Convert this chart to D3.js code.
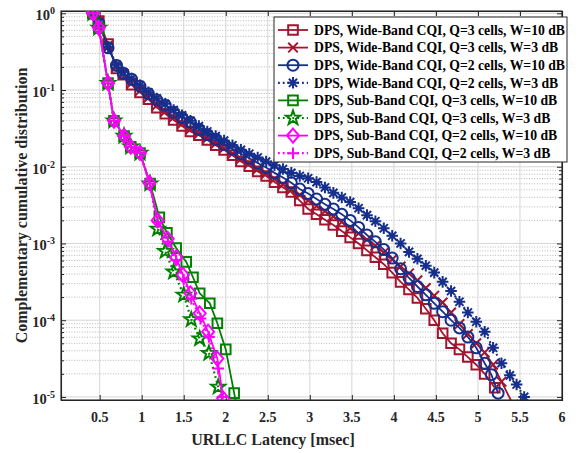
<!DOCTYPE html>
<html><head><meta charset="utf-8">
<script src="https://cdn.jsdelivr.net/npm/d3@7"></script>
<style>body{margin:0;background:#fff} svg{display:block}</style>
</head><body>
<svg id="chart" width="579" height="453"></svg>
<script>
// ---------- data ----------
const xTickValues = [0.5,1,1.5,2,2.5,3,3.5,4,4.5,5,5.5,6];
const xTickLabels = ["0.5","1","1.5","2","2.5","3","3.5","4","4.5","5","5.5","6"];
const yTickValues = [1,1e-1,1e-2,1e-3,1e-4,1e-5];
const yTickExponents = ["0","-1","-2","-3","-4","-5"];

const seriesLabels = [
  "DPS, Wide-Band CQI, Q=3 cells, W=10 dB",
  "DPS, Wide-Band CQI, Q=3 cells, W=3 dB",
  "DPS, Wide-Band CQI, Q=2 cells, W=10 dB",
  "DPS, Wide-Band CQI, Q=2 cells, W=3 dB",
  "DPS, Sub-Band CQI, Q=3 cells, W=10 dB",
  "DPS, Sub-Band CQI, Q=3 cells, W=3 dB",
  "DPS, Sub-Band CQI, Q=2 cells, W=10 dB",
  "DPS, Sub-Band CQI, Q=2 cells, W=3 dB"
];

const wbX = [0.42,0.49,0.60,0.70,0.78,0.88,0.98,1.08,1.18,1.28,1.38,1.48,1.58,1.68,1.78,1.88,1.98,2.08,2.18,2.28,2.38,2.48,2.58,2.68,2.78,2.88,2.98,3.08,3.18,3.28,3.38,3.48,3.58,3.68,3.78,3.88,3.98,4.08,4.18,4.28,4.38,4.48,4.58,4.68,4.78,4.88,4.98,5.08];

const wbQ3W10X = wbX.concat([5.20]);
const wbQ3W10Y = [1,0.794,0.398,0.191,0.158,0.117,0.0933,0.0759,0.0589,0.0490,0.0407,0.0339,0.0288,0.0257,0.0224,0.0191,0.0166,0.0141,0.0117,0.0102,0.00871,0.00759,0.00631,0.00537,0.00468,0.00363,0.00282,0.00240,0.00204,0.00174,0.00145,0.00120,0.00100,0.000813,0.000661,0.000537,0.000417,0.000316,0.000251,0.000195,0.000141,0.000100,0.0000676,0.0000501,0.0000417,0.0000331,0.0000263,0.0000200,0.0000132];

const wbQ3W3X = wbX.concat([5.18,5.28,5.42]);
const wbQ3W3Y = [1,0.776,0.380,0.200,0.162,0.123,0.0977,0.0794,0.0631,0.0525,0.0437,0.0363,0.0309,0.0269,0.0234,0.0200,0.0174,0.0148,0.0126,0.0110,0.00933,0.00813,0.00692,0.00589,0.00501,0.00427,0.00363,0.00309,0.00263,0.00224,0.00191,0.00158,0.00135,0.00112,0.000933,0.000759,0.000617,0.000501,0.000407,0.000331,0.000263,0.000209,0.000170,0.000126,0.0000891,0.0000661,0.0000501,0.0000380,0.0000263,0.0000158,0.0000079];

const wbQ2W10X = wbX.concat([5.16,5.24]);
const wbQ2W10Y = [1,0.741,0.355,0.209,0.166,0.138,0.112,0.0891,0.0741,0.0631,0.0513,0.0437,0.0380,0.0309,0.0263,0.0229,0.0195,0.0170,0.0148,0.0129,0.0112,0.00977,0.00832,0.00724,0.00617,0.00513,0.00447,0.00380,0.00324,0.00282,0.00240,0.00200,0.00162,0.00129,0.00105,0.000832,0.000646,0.000468,0.000355,0.000275,0.000214,0.000166,0.000129,0.000100,0.0000794,0.0000603,0.0000437,0.0000275,0.0000195,0.0000112];

const wbQ2W3X = wbX.concat([5.18,5.28,5.38,5.46,5.55]);
const wbQ2W3Y = [1,0.759,0.363,0.214,0.170,0.141,0.115,0.0933,0.0776,0.0661,0.0550,0.0468,0.0398,0.0339,0.0288,0.0251,0.0219,0.0191,0.0166,0.0148,0.0132,0.0117,0.0105,0.00933,0.00832,0.00759,0.00708,0.00631,0.00537,0.00457,0.00398,0.00347,0.00288,0.00234,0.00195,0.00158,0.00126,0.00100,0.000776,0.000631,0.000513,0.000417,0.000316,0.000240,0.000174,0.000126,0.0000955,0.0000708,0.0000437,0.0000275,0.0000191,0.0000145,0.0000100];

const sbQ3W10X = [0.42,0.49,0.60,0.67,0.79,0.87,0.98,1.10,1.21,1.30,1.41,1.53,1.61,1.69,1.81,1.90,2.00,2.10,2.13];
const sbQ3W10Y = [1,0.646,0.123,0.0398,0.0251,0.0182,0.0151,0.00603,0.00219,0.00138,0.000871,0.000575,0.000363,0.000224,0.000166,0.0000912,0.0000417,0.0000112,0.0000076];

const sbQ3W3X = [0.42,0.49,0.60,0.67,0.79,0.87,0.98,1.10,1.19,1.28,1.38,1.50,1.59,1.69,1.80,1.91,1.95];
const sbQ3W3Y = [1,0.646,0.123,0.0398,0.0251,0.0182,0.0151,0.00603,0.00155,0.000794,0.000427,0.000214,0.000102,0.0000575,0.0000372,0.0000135,0.0000074];

const sbQ2W10X = [0.42,0.49,0.60,0.67,0.79,0.87,0.98,1.09,1.19,1.31,1.41,1.49,1.58,1.69,1.79,1.90,1.97];
const sbQ2W10Y = [1,0.646,0.123,0.0398,0.0251,0.0182,0.0151,0.00617,0.00200,0.00115,0.000661,0.000389,0.000224,0.000123,0.0000708,0.0000316,0.0000095];

const sbQ2W3X = [0.42,0.49,0.60,0.67,0.79,0.87,0.98,1.10,1.19,1.31,1.41,1.50,1.59,1.70,1.80,1.91,1.96];
const sbQ2W3Y = [1,0.646,0.123,0.0398,0.0251,0.0182,0.0151,0.00603,0.00191,0.00105,0.000603,0.000339,0.000191,0.000105,0.0000603,0.0000234,0.0000100];

// ---------- styles ----------
const RED = "#A2142F", BLUE = "#162f8c", GREEN = "#008000", MAG = "#ff00ff";
const series = [
  {label: seriesLabels[0], x: wbQ3W10X, y: wbQ3W10Y, color: RED,   marker: "square",   dotted: false},
  {label: seriesLabels[1], x: wbQ3W3X,  y: wbQ3W3Y,  color: RED,   marker: "cross",    dotted: false},
  {label: seriesLabels[2], x: wbQ2W10X, y: wbQ2W10Y, color: BLUE,  marker: "circle",   dotted: false},
  {label: seriesLabels[3], x: wbQ2W3X,  y: wbQ2W3Y,  color: BLUE,  marker: "asterisk", dotted: true},
  {label: seriesLabels[4], x: sbQ3W10X, y: sbQ3W10Y, color: GREEN, marker: "square",   dotted: false},
  {label: seriesLabels[5], x: sbQ3W3X,  y: sbQ3W3Y,  color: GREEN, marker: "star",     dotted: true},
  {label: seriesLabels[6], x: sbQ2W10X, y: sbQ2W10Y, color: MAG,   marker: "diamond",  dotted: false},
  {label: seriesLabels[7], x: sbQ2W3X,  y: sbQ2W3Y,  color: MAG,   marker: "plus",     dotted: true}
];

function starPath(ro, ri) {
  let p = "";
  for (let i = 0; i < 10; i++) {
    const r = i % 2 === 0 ? ro : ri;
    const a = -Math.PI / 2 + i * Math.PI / 5;
    p += (i === 0 ? "M" : "L") + (r * Math.cos(a)).toFixed(2) + "," + (r * Math.sin(a)).toFixed(2);
  }
  return p + "Z";
}
const markerPaths = {
  square: "M-4.8,-4.8H4.8V4.8H-4.8Z",
  cross: "M-4.8,-4.8L4.8,4.8M-4.8,4.8L4.8,-4.8",
  circle: "M5.5,0A5.5,5.5 0 1,1 -5.5,0A5.5,5.5 0 1,1 5.5,0Z",
  asterisk: "M0,-5.8V5.8M-5.8,0H5.8M-4.1,-4.1L4.1,4.1M-4.1,4.1L4.1,-4.1",
  star: starPath(7.4, 3),
  diamond: "M0,-7L6,0L0,7L-6,0Z",
  plus: "M0,-5.8V5.8M-5.8,0H5.8"
};

// ---------- layout ----------
const svg = d3.select("#chart");
const L = 61, R = 562, T = 11, B = 400;
const x = d3.scaleLinear().domain([0.04, 6]).range([L, R]);
const y = d3.scaleLog().domain([Math.pow(10, -5.04), Math.pow(10, 0.03)]).range([B, T]);
const AX = "#262626";
const FONT = "'Liberation Serif','Times New Roman',serif";

svg.append("rect").attr("x", 0).attr("y", 0).attr("width", 579).attr("height", 453).attr("fill", "#fff");

const minorY = [];
for (let k = -5; k < 0; k++) for (let m = 2; m <= 9; m++) minorY.push(m * Math.pow(10, k));

// grid
const grid = svg.append("g");
grid.selectAll("line.minor").data(minorY).enter().append("line")
  .attr("x1", L).attr("x2", R).attr("y1", d => y(d)).attr("y2", d => y(d))
  .attr("stroke", "#b8b8b8").attr("stroke-width", 1).attr("stroke-dasharray", "1,1.6");
grid.selectAll("line.my").data(yTickValues).enter().append("line")
  .attr("x1", L).attr("x2", R).attr("y1", d => y(d)).attr("y2", d => y(d))
  .attr("stroke", "#d6d6d6").attr("stroke-width", 1);
grid.selectAll("line.mx").data(xTickValues).enter().append("line")
  .attr("y1", T).attr("y2", B).attr("x1", d => x(d)).attr("x2", d => x(d))
  .attr("stroke", "#d6d6d6").attr("stroke-width", 1);

// axes (ticks inward)
const axB = d3.axisBottom(x).tickValues(xTickValues).tickSize(-5).tickFormat("");
const axT = d3.axisTop(x).tickValues(xTickValues).tickSize(-5).tickFormat("");
const axL = d3.axisLeft(y).tickValues(yTickValues).tickSize(-5).tickFormat("");
const axR = d3.axisRight(y).tickValues(yTickValues).tickSize(-5).tickFormat("");
const axLm = d3.axisLeft(y).tickValues(minorY).tickSize(-3).tickFormat("");
const axRm = d3.axisRight(y).tickValues(minorY).tickSize(-3).tickFormat("");
function styleAxis(g) { g.selectAll("path").attr("stroke", AX).attr("stroke-width", 1.1); g.selectAll("line").attr("stroke", AX); }
svg.append("g").attr("transform", `translate(0,${B})`).call(axB).call(styleAxis);
svg.append("g").attr("transform", `translate(0,${T})`).call(axT).call(styleAxis);
svg.append("g").attr("transform", `translate(${L},0)`).call(axL).call(styleAxis);
svg.append("g").attr("transform", `translate(${R},0)`).call(axR).call(styleAxis);
svg.append("g").attr("transform", `translate(${L},0)`).call(axLm).call(g => g.select("path").remove()).call(styleAxis);
svg.append("g").attr("transform", `translate(${R},0)`).call(axRm).call(g => g.select("path").remove()).call(styleAxis);
svg.append("rect").attr("x", L).attr("y", T).attr("width", R - L).attr("height", B - T)
  .attr("fill", "none").attr("stroke", AX).attr("stroke-width", 1.1);

// tick labels
svg.append("g").selectAll("text").data(xTickValues).enter().append("text")
  .attr("x", d => x(d)).attr("y", 422).attr("text-anchor", "middle")
  .attr("font-family", FONT).attr("font-weight", "bold").attr("font-size", 14).attr("fill", AX)
  .text((d, i) => xTickLabels[i]);
const yl = svg.append("g").selectAll("text").data(yTickValues).enter().append("text")
  .attr("x", 55).attr("y", d => y(d) + 7).attr("text-anchor", "end")
  .attr("font-family", FONT).attr("font-weight", "bold").attr("font-size", 14.5).attr("fill", AX);
yl.append("tspan").text("10");
yl.append("tspan").attr("dy", -6).attr("font-size", 10).text((d, i) => yTickExponents[i]);

// axis titles
svg.append("text").attr("x", 273).attr("y", 445).attr("text-anchor", "middle")
  .attr("font-family", FONT).attr("font-weight", "bold").attr("font-size", 16).attr("fill", AX)
  .text("URLLC Latency [msec]");
svg.append("text").attr("transform", `translate(27,${(T + B) / 2}) rotate(-90)`).attr("text-anchor", "middle")
  .attr("font-family", FONT).attr("font-weight", "bold").attr("font-size", 16).attr("fill", AX)
  .text("Complementary cumulative distribution");

// clip
svg.append("defs").append("clipPath").attr("id", "clip")
  .append("rect").attr("x", L).attr("y", T).attr("width", R - L).attr("height", B - T);
const plot = svg.append("g").attr("clip-path", "url(#clip)");

const line = d3.line().x(d => x(d[0])).y(d => y(d[1]));
series.forEach(s => {
  const pts = d3.zip(s.x, s.y);
  const g = plot.append("g");
  g.append("path").attr("d", line(pts)).attr("fill", "none").attr("stroke", s.color)
    .attr("stroke-width", s.dotted ? 2.2 : 1.8)
    .attr("stroke-dasharray", s.dotted ? "1.8,3" : null);
  g.selectAll("path.m").data(pts).enter().append("path")
    .attr("d", markerPaths[s.marker])
    .attr("transform", d => `translate(${x(d[0])},${y(d[1])})`)
    .attr("fill", "none").attr("stroke", s.color).attr("stroke-width", 2);
});

// legend
const lg = svg.append("g");
lg.append("rect").attr("x", 274).attr("y", 17).attr("width", 293).attr("height", 145)
  .attr("fill", "#fff").attr("stroke", AX).attr("stroke-width", 1);
series.forEach((s, i) => {
  const cy = 30 + i * 17.6;
  lg.append("line").attr("x1", 278).attr("x2", 308).attr("y1", cy).attr("y2", cy)
    .attr("stroke", s.color).attr("stroke-width", s.dotted ? 2.2 : 1.8)
    .attr("stroke-dasharray", s.dotted ? "1.8,3" : null);
  lg.append("path").attr("d", markerPaths[s.marker]).attr("transform", `translate(293,${cy})`)
    .attr("fill", "none").attr("stroke", s.color).attr("stroke-width", 2);
  lg.append("text").attr("x", 314).attr("y", cy + 4.8)
    .attr("font-family", FONT).attr("font-weight", "bold").attr("font-size", 13.7).attr("fill", "#000")
    .text(s.label);
});
</script>
</body></html>
